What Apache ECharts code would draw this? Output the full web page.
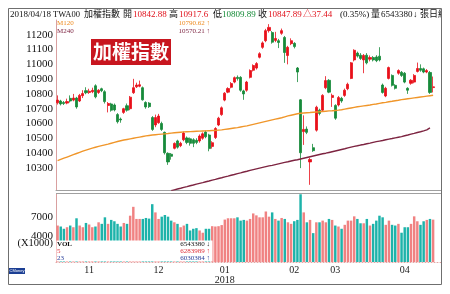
<!DOCTYPE html>
<html><head><meta charset="utf-8">
<script src="https://cdn.jsdelivr.net/npm/echarts@6/dist/echarts.min.js"></script>
<style>html,body{margin:0;padding:0;background:#fff}#c{width:450px;height:294px}</style>
</head><body><div id="c"></div>
<script>
// ---- data ----
const dates = [
'2017/10/18','2017/10/19','2017/10/20','2017/10/23','2017/10/24','2017/10/25','2017/10/26','2017/10/27','2017/10/30','2017/10/31',
'2017/11/01','2017/11/02','2017/11/03','2017/11/06','2017/11/07','2017/11/08','2017/11/09','2017/11/10','2017/11/13','2017/11/14','2017/11/15','2017/11/16','2017/11/17','2017/11/20','2017/11/21','2017/11/22','2017/11/23','2017/11/24','2017/11/27','2017/11/28','2017/11/29','2017/11/30',
'2017/12/01','2017/12/04','2017/12/05','2017/12/06','2017/12/07','2017/12/08','2017/12/11','2017/12/12','2017/12/13','2017/12/14','2017/12/15','2017/12/18','2017/12/19','2017/12/20','2017/12/21','2017/12/22','2017/12/25','2017/12/26','2017/12/27','2017/12/28','2017/12/29',
'2018/01/02','2018/01/03','2018/01/04','2018/01/05','2018/01/08','2018/01/09','2018/01/10','2018/01/11','2018/01/12','2018/01/15','2018/01/16','2018/01/17','2018/01/18','2018/01/19','2018/01/22','2018/01/23','2018/01/24','2018/01/25','2018/01/26','2018/01/29','2018/01/30','2018/01/31',
'2018/02/01','2018/02/02','2018/02/05','2018/02/06','2018/02/07','2018/02/08','2018/02/09','2018/02/12','2018/02/21','2018/02/22','2018/02/23','2018/02/26','2018/02/27',
'2018/03/01','2018/03/02','2018/03/05','2018/03/06','2018/03/07','2018/03/08','2018/03/09','2018/03/12','2018/03/13','2018/03/14','2018/03/15','2018/03/16','2018/03/19','2018/03/20','2018/03/21','2018/03/22','2018/03/23','2018/03/26','2018/03/27','2018/03/28','2018/03/29','2018/03/30',
'2018/04/02','2018/04/03','2018/04/09','2018/04/10','2018/04/11','2018/04/12','2018/04/13','2018/04/16','2018/04/17','2018/04/18'
];
const openP = [
10740,10752,10742,10738,10770,10758,10772,10752,10788,10822,
10810,10815,10855,10810,10835,10815,10722,10732,10725,10660,10630,10675,10720,10700,10808,10848,10852,10842,10742,10738,10640,10590,
10605,10600,10540,10398,10392,10432,10482,10450,10490,10502,10496,10490,10486,10482,10500,10542,10522,10445,10505,10590,10660,
10758,10812,10845,10880,10912,10912,10820,10825,10912,10960,10975,11048,11115,11160,11228,11215,11162,11160,11210,11182,11060,11140,
11142,10975,10760,10545,10562,10340,10436,10555,10690,10690,10842,10892,10776,
10722,10725,10770,10790,10835,10905,11030,11076,11062,11030,11062,11035,11046,11050,11055,10860,10786,10905,10925,10858,10940,10946,
10940,10838,10872,10880,10952,10972,10970,10948,10945,10842.88
];
const closeP = [
10758,10732,10735,10748,10752,10772,10712,10790,10802,10808,
10818,10824,10780,10825,10822,10748,10735,10690,10692,10612,10624,10700,10690,10778,10842,10860,10862,10760,10712,10714,10560,10640,
10650,10560,10402,10340,10378,10465,10440,10466,10535,10472,10466,10466,10472,10515,10530,10510,10430,10470,10566,10636,10706,
10805,10836,10870,10910,10904,10825,10800,10880,10958,10992,11005,11072,11145,11228,11250,11150,11175,11148,11228,11080,11115,11160,
11120,10948,10402,10560,10540,10356,10416,10710,10668,10790,10890,10812,10790,
10636,10775,10752,10825,10865,11010,11095,11056,11040,11060,11010,11046,11030,11025,11030,10810,10838,10978,10858,10838,10958,10925,
10880,10825,10892,10925,10972,10960,10948,10958,10810,10847.89
];
const lowP = [
10728,10722,10725,10730,10742,10750,10700,10745,10772,10798,
10800,10805,10770,10800,10812,10735,10675,10680,10682,10600,10605,10665,10680,10690,10800,10840,10845,10755,10700,10705,10550,10575,
10598,10550,10390,10320,10355,10425,10430,10440,10480,10460,10450,10440,10460,10470,10490,10500,10412,10430,10495,10582,10652,
10750,10805,10838,10872,10890,10815,10760,10815,10905,10952,10965,11040,11105,11150,11215,11140,11150,11110,11200,11010,11000,11130,
11108,10880,10298,10455,10528,10185,10408,10545,10655,10682,10832,10805,10712,
10625,10715,10740,10780,10825,10900,11020,11046,11030,10940,11000,11020,11020,11015,11020,10802,10778,10898,10850,10830,10930,10915,
10872,10800,10862,10872,10945,10950,10940,10940,10800,10809.89
];
const highP = [
10790,10760,10752,10768,10790,10800,10780,10800,10825,10845,
10835,10842,10865,10832,10842,10825,10745,10740,10735,10670,10640,10706,10735,10786,10902,10876,10890,10850,10750,10745,10650,10660,
10665,10612,10545,10405,10400,10472,10490,10476,10545,10512,10505,10500,10500,10526,10540,10552,10530,10480,10575,10645,10715,
10812,10845,10880,10918,10925,10920,10828,10888,10966,11000,11015,11082,11155,11240,11272,11225,11220,11172,11242,11192,11125,11176,
11150,10982,10765,10655,10580,10368,10462,10720,10700,10798,10920,10900,10802,
10730,10786,10780,10836,10876,11016,11102,11086,11076,11070,11076,11060,11056,11062,11116,10870,10848,10985,10932,10866,10966,10955,
10948,10845,10900,10934,11012,11000,10978,10968,10955,10917.6
];
// volume, unit: 1000 張
const volume = [
5630,5480,5130,5370,5630,5370,6750,5630,5370,6030,
5790,5370,5480,6130,5890,6900,5890,6500,6290,5890,5480,6030,5890,7150,8520,6650,6650,6650,6800,6700,8930,7660,
6650,7000,7260,7000,6390,6130,5890,5370,5630,5890,4870,5130,5230,4870,4520,5130,5130,5530,5480,5530,5700,
6550,6750,6750,6750,6900,6390,6500,6390,6650,7500,7200,6900,6900,7800,7000,7660,6650,6390,6800,6650,6130,5890,
6300,6500,10460,7660,6130,6500,4460,6130,6130,6390,6130,6650,6500,
5630,5480,5130,5740,6390,6390,7050,6650,5980,5980,6650,5630,5890,6390,7150,6900,5740,6390,5740,5630,5890,4520,
5370,5370,5890,7050,6290,5740,6290,6500,6650,6543.38
];
const ma120 = [
10349,10357,10365,10373,10381,10389,10397,10405,10413,10420,
10427,10433,10439,10445,10450,10455,10460,10466,10472,10478,10483,10488,10492,10496,10500,10504,10508,10512,10516,10519,10522,10524,
10526,10528,10530,10532,10535,10537,10539,10541,10543,10544,10545,10546,10547,10548,10549,10550,10551,10552,10553,10555,10557,
10560,10563,10566,10569,10572,10576,10580,10584,10589,10594,10599,10604,10609,10614,10619,10624,10629,10634,10639,10645,10651,10656,
10661,10666,10669,10671,10673,10674,10676,10678,10679,10681,10683,10685,10686,
10688,10690,10693,10697,10701,10705,10709,10713,10716,10719,10722,10725,10729,10732,10736,10740,10743,10747,10750,10754,10757,10761,
10764,10767,10770,10773,10776,10779,10782,10785,10788,10790.62
];
const ma240 = [
null,null,null,null,null,null,null,null,null,null,
null,null,null,null,null,null,null,null,null,null,null,null,null,null,null,null,null,null,null,null,null,null,
null,null,null,null,10145,10151,10157,10162,10168,10173,10179,10184,10190,10195,10200,10206,10211,10217,10222,10228,10233,
10239,10244,10250,10255,10261,10266,10272,10277,10283,10288,10293,10298,10303,10308,10313,10317,10322,10327,10332,10337,10341,
10346,10351,10355,10360,10365,10370,10375,10380,10385,10390,10395,10399,10404,
10409,10414,10419,10424,10429,10435,10440,10445,10449,10454,10458,10463,10467,10472,10477,10481,10485,10490,10494,10498,10503,10507,
10511,10517,10522,10528,10533,10539,10544,10550,10557,10570.21
];
const priceTicks = [10300,10400,10500,10600,10700,10800,10900,11000,11100,11200];
const volTicks = [4000,7000];
const header = [
  ['2018/04/18',10,'k',9],['TWA00',53,'k',8.5],['加權指數',84,'k',9],['開',123,'k',9],['10842.88',133,'r',9],
  ['高',169,'k',9],['10917.6',179,'r',9],['低',213,'k',9],['10809.89',222,'g',9],['收',258,'k',9],['10847.89',268,'r',9],
  ['△37.44',303,'r',9],['(0.35%)',340,'k',9],['量',371,'k',9],['6543380',381,'k',9],['↓',413,'k',9],['張日線',420,'k',9]
];
const maLegend = [['M120','10790.62 ↑','#ee8a1e'],['M240','10570.21 ↑','#7a1f3d']];
const volLegend = [['VOL','6543380 ↓','#111'],['5','6283989 ↑','#e0303a'],['23','6030384 ↑','#2a3f9a']];

// ---- chart ----
const SERIF = '"Liberation Serif","Noto Sans CJK TC",serif';
const UP = '#e8101a', DOWN = '#178a3a', VUP = '#f08282', VDOWN = '#1db3aa';
const cats = dates.concat([' ', '  ']);
const candles = dates.map((d, i) => [openP[i], closeP[i], lowP[i], highP[i]]);
function isMonthStart(idx) {
  if (idx <= 0 || idx >= dates.length) return false;
  return dates[idx].slice(5, 7) !== dates[idx - 1].slice(5, 7);
}
const colMap = { k: '#111', r: '#e0101a', g: '#138a36' };
const graphics = [];
header.forEach(h => graphics.push({ type: 'text', x: h[1], y: 15, z: 100,
  style: { text: h[0], fill: colMap[h[2]], font: h[3] + 'px ' + SERIF, verticalAlign: 'middle' } }));
graphics.push({ type: 'rect', shape: { x: 442, y: 0, width: 8, height: 294 }, style: { fill: '#fff' }, z: 101 });
graphics.push({ type: 'rect', shape: { x: 8.5, y: 8.5, width: 433, height: 276 }, style: { fill: 'none', stroke: '#6f6f6f', lineWidth: 1 }, z: 102 });
maLegend.forEach((m, k) => {
  graphics.push({ type: 'text', left: 57, top: 20 + k * 8, z: 100, style: { text: m[0], fill: m[2], font: '7px ' + SERIF } });
  graphics.push({ type: 'text', right: 450 - 210, top: 20 + k * 8, z: 100, style: { text: m[1], fill: m[2], font: '7px ' + SERIF, align: 'right' } });
});
graphics.push({ type: 'rect', shape: { x: 91, y: 39, width: 80, height: 26 }, style: { fill: '#c8161f' }, z: 100 });
graphics.push({ type: 'text', x: 131, y: 52, z: 101, style: { text: '加權指數', fill: '#fff', font: 'bold 19px "Noto Sans CJK TC"', align: 'center', verticalAlign: 'middle' } });
graphics.push({ type: 'line', shape: { x1: 56, y1: 193.5, x2: 441, y2: 193.5 }, style: { stroke: '#a0a0a0', lineWidth: 1 }, z: 50 });
graphics.push({ type: 'rect', shape: { x: 56.5, y: 240.5, width: 156, height: 21 }, style: { fill: '#fff' }, z: 60 });
volLegend.forEach((m, k) => {
  graphics.push({ type: 'text', left: 57, top: 241 + k * 7, z: 61, style: { text: m[0], fill: m[2], font: (k === 0 ? 'bold ' : '') + '7px ' + SERIF } });
  graphics.push({ type: 'text', x: 210, y: 241 + k * 7, z: 61, style: { text: m[1], fill: m[2], font: '7px ' + SERIF, align: 'right', verticalAlign: 'top' } });
});
graphics.push({ type: 'text', x: 53, y: 243, z: 61, style: { text: '(X1000)', fill: '#111', font: '10.5px ' + SERIF, align: 'right', verticalAlign: 'middle' } });
graphics.push({ type: 'rect', shape: { x: 9, y: 268, width: 16, height: 6 }, style: { fill: '#1c3f94' }, z: 61 });
graphics.push({ type: 'text', x: 17, y: 271, z: 62, style: { text: 'CMoney', fill: '#fff', font: '4px sans-serif', align: 'center', verticalAlign: 'middle' } });

const chart = echarts.init(document.getElementById('c'), null, { renderer: 'canvas' });
chart.setOption({
  animation: false,
  backgroundColor: '#fff',
  grid: [
    { left: 56, right: 9, top: 20, bottom: 104 },
    { left: 56, right: 9, top: 194, bottom: 32 }
  ],
  xAxis: [
    { type: 'category', gridIndex: 0, data: cats, boundaryGap: true,
      axisLine: { lineStyle: { color: '#a0a0a0' } },
      axisTick: { inside: true, length: 3, interval: (i) => isMonthStart(i), lineStyle: { color: '#999' } },
      axisLabel: { show: false }, splitLine: { show: false } },
    { type: 'category', gridIndex: 1, data: cats, boundaryGap: true,
      axisLine: { lineStyle: { color: '#e3a5a5', type: [1, 2] } },
      axisTick: { show: false },
      axisLabel: { interval: (i) => isMonthStart(i), margin: 3, color: '#222', fontFamily: SERIF, fontSize: 10, lineHeight: 10,
        formatter: (v) => { const m = v.slice(5, 7); return m === '01' ? '01\n' + v.slice(0, 4) : m; } },
      splitLine: { show: false } }
  ],
  yAxis: [
    { type: 'value', gridIndex: 0, min: 10150, max: 11300, interval: 50,
      axisLine: { show: true, lineStyle: { color: '#d9a0a0' } }, axisTick: { show: false }, splitLine: { show: false },
      axisLabel: { margin: 3, color: '#111', fontFamily: SERIF, fontSize: 11,
        formatter: (v) => priceTicks.indexOf(v) >= 0 ? String(v) : '' } },
    { type: 'value', gridIndex: 1, min: 0, max: 10500, interval: 1000,
      axisLine: { show: true, lineStyle: { color: '#d9a0a0' } }, axisTick: { show: false }, splitLine: { show: false },
      axisLabel: { margin: 3, color: '#111', fontFamily: SERIF, fontSize: 11,
        formatter: (v) => volTicks.indexOf(v) >= 0 ? String(v) : '' } }
  ],
  series: [
    { type: 'candlestick', xAxisIndex: 0, yAxisIndex: 0, data: candles, barWidth: 2.6,
      itemStyle: { color: UP, color0: DOWN, borderColor: UP, borderColor0: DOWN, borderWidth: 0.8 } },
    { type: 'line', xAxisIndex: 0, yAxisIndex: 0, data: ma120, symbol: 'none', clip: true,
      lineStyle: { color: '#f0962a', width: 1.4 }, z: 3 },
    { type: 'line', xAxisIndex: 0, yAxisIndex: 0, data: ma240, symbol: 'none', clip: true, connectNulls: false,
      lineStyle: { color: '#7d2441', width: 1.4 }, z: 3 },
    { type: 'bar', xAxisIndex: 1, yAxisIndex: 1, data: volume, barWidth: '78%',
      itemStyle: { color: (p) => closeP[p.dataIndex] >= openP[p.dataIndex] ? VUP : VDOWN } }
  ],
  graphic: graphics
});
</script>
</body></html>
